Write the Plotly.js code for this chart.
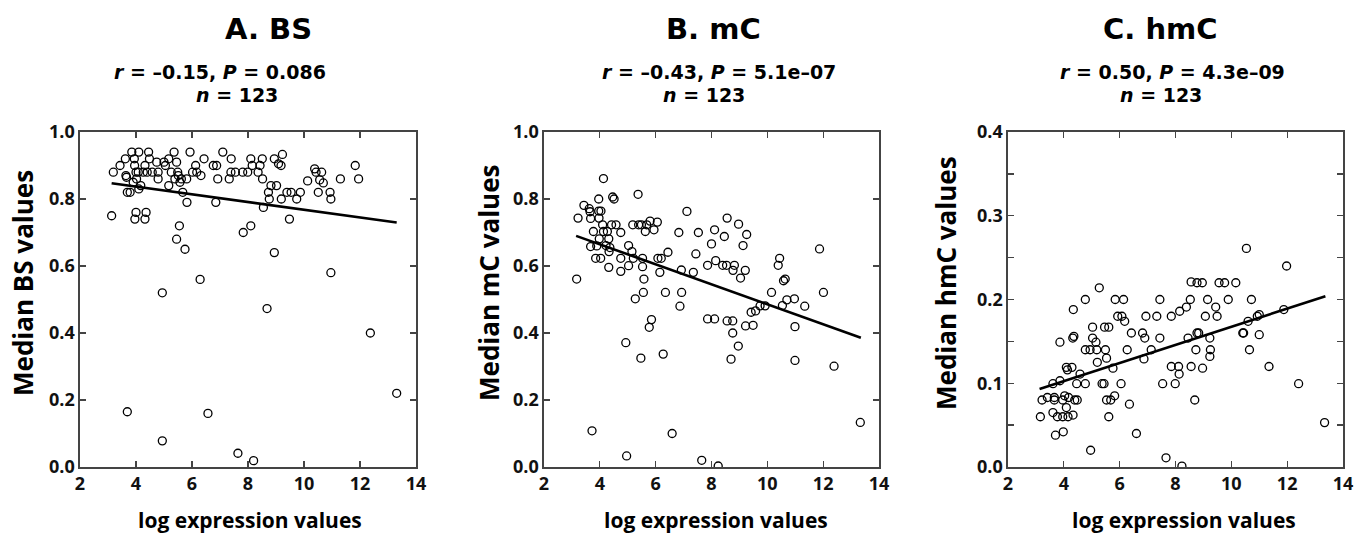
<!DOCTYPE html>
<html><head><meta charset="utf-8">
<script src="https://cdn.plot.ly/plotly-3.0.1.min.js"></script>
<style>html,body{margin:0;padding:0;background:#fff}#chart{width:1359px;height:535px}</style>
</head><body><div id="chart"></div>
<script>
const panelTitles = ["A. BS", "B. mC", "C. hmC"];
const statLines = ["<i>r</i> = –0.15, <i>P</i> = 0.086", "<i>r</i> = –0.43, <i>P</i> = 5.1e–07", "<i>r</i> = 0.50, <i>P</i> = 4.3e–09"];
const nLine = "<i>n</i> = 123";
const xTitle = "log expression values";
const yTitles = ["Median BS values", "Median mC values", "Median hmC values"];

const xTickVals = [2, 4, 6, 8, 10, 12, 14];
const xTickText = ["2", "4", "6", "8", "10", "12", "14"];
const yTickValsAB = [0, 0.2, 0.4, 0.6, 0.8, 1.0];
const yTickTextAB = ["0.0", "0.2", "0.4", "0.6", "0.8", "1.0"];
const yTickValsC = [0, 0.05, 0.1, 0.15, 0.2, 0.25, 0.3, 0.35, 0.4];
const yTickTextC = ["0.0", "", "0.1", "", "0.2", "", "0.3", "", "0.4"];

// Panel A: BS
const aX = [3.19,3.13,3.43,3.62,3.64,3.66,3.69,3.79,3.85,3.94,3.90,3.95,4.00,4.10,4.08,4.10,4.17,4.00,3.96,4.02,
4.26,4.32,4.36,4.32,4.45,4.48,4.40,4.58,4.74,4.79,4.79,5.00,5.05,5.17,5.17,5.26,5.36,5.45,5.39,5.49,
5.51,5.57,5.62,5.67,5.81,5.82,5.93,6.02,6.13,6.17,6.32,6.43,6.76,6.88,6.92,6.85,7.10,7.33,7.40,7.39,
7.55,7.81,7.99,8.10,8.15,8.36,7.83,8.10,5.55,5.45,5.75,4.94,6.29,3.69,4.94,6.57,7.64,8.20,
8.43,8.51,8.52,8.55,8.68,8.73,8.76,8.82,8.94,8.94,9.02,9.09,9.18,9.23,9.19,9.39,9.48,9.54,9.74,9.87,
10.13,10.38,10.43,10.63,10.56,10.69,10.51,10.93,10.96,10.96,11.30,11.83,11.95,12.37,13.31];
const aY = [0.88,0.75,0.90,0.92,0.87,0.865,0.82,0.82,0.94,0.92,0.85,0.90,0.88,0.94,0.88,0.83,0.84,0.76,0.74,0.86,
0.88,0.90,0.76,0.74,0.94,0.92,0.88,0.88,0.91,0.88,0.86,0.91,0.90,0.92,0.84,0.88,0.94,0.91,0.86,0.88,
0.87,0.85,0.86,0.82,0.86,0.79,0.94,0.88,0.90,0.88,0.87,0.92,0.90,0.90,0.86,0.79,0.94,0.86,0.92,0.88,
0.88,0.88,0.88,0.92,0.90,0.88,0.70,0.72,0.72,0.68,0.65,0.52,0.56,0.165,0.078,0.16,0.041,0.019,
0.90,0.92,0.86,0.775,0.473,0.82,0.80,0.84,0.92,0.64,0.84,0.905,0.90,0.933,0.80,0.82,0.74,0.82,0.80,0.82,
0.854,0.89,0.88,0.88,0.857,0.848,0.82,0.82,0.80,0.58,0.86,0.90,0.86,0.40,0.22];
const fitAX = [3.13, 13.31];
const fitAY = [0.847, 0.730];

// Panel B: mC
const bX = [3.17,3.22,3.43,3.62,3.65,3.67,3.67,3.77,3.72,3.85,3.89,3.96,3.96,3.97,3.98,4.03,4.04,4.10,4.13,4.13,
4.22,4.27,4.32,4.33,4.32,4.36,4.42,4.46,4.51,4.58,4.75,4.75,4.75,4.93,4.96,5.03,5.03,5.15,5.18,5.20,
5.27,5.37,5.39,5.49,5.47,5.53,5.53,5.58,5.56,5.63,5.68,5.80,5.85,5.77,5.94,6.06,6.08,6.15,6.20,6.27,
6.35,6.44,6.59,6.83,6.87,6.92,6.93,7.12,7.35,7.44,7.53,
7.65,7.86,7.86,8.00,8.11,8.11,8.15,8.24,8.40,8.46,8.54,8.56,8.56,8.76,8.76,8.77,8.82,8.70,8.96,8.97,
9.04,9.13,9.21,9.22,9.26,9.49,9.42,9.58,9.74,9.92,10.15,10.39,10.44,10.54,10.58,10.64,10.70,10.97,10.99,10.99,
11.34,11.87,12.01,12.39,13.33];
const bY = [0.561,0.743,0.781,0.771,0.762,0.742,0.658,0.703,0.108,0.623,0.66,0.80,0.764,0.743,0.681,0.623,0.764,0.723,0.861,0.703,
0.661,0.703,0.681,0.643,0.596,0.655,0.723,0.806,0.80,0.723,0.70,0.623,0.584,0.371,0.033,0.661,0.601,0.643,0.723,0.623,
0.502,0.814,0.723,0.723,0.325,0.623,0.598,0.561,0.521,0.703,0.723,0.734,0.44,0.417,0.708,0.731,0.623,0.581,0.623,0.337,
0.521,0.641,0.10,0.70,0.48,0.588,0.521,0.763,0.581,0.636,0.70,
0.02,0.442,0.602,0.666,0.708,0.442,0.616,0.003,0.602,0.688,0.602,0.743,0.436,0.436,0.40,0.587,0.602,0.322,0.361,0.725,
0.564,0.661,0.587,0.421,0.694,0.423,0.462,0.466,0.481,0.481,0.521,0.602,0.623,0.482,0.556,0.561,0.499,0.502,0.419,0.318,
0.48,0.651,0.521,0.301,0.133];
const fitBX = [3.15, 13.35];
const fitBY = [0.690, 0.386];

// Panel C: hmC
const cX = [3.16,3.22,3.41,3.61,3.66,3.66,3.61,3.70,3.77,3.86,3.86,3.96,3.96,3.98,4.03,4.09,4.09,4.13,4.17,4.15,
4.29,4.32,4.34,4.36,4.33,4.39,4.48,4.46,4.58,4.77,4.77,4.77,4.96,4.94,5.03,5.03,5.15,5.18,5.20,5.27,
5.37,5.46,5.44,5.49,5.53,5.61,5.53,5.68,5.61,5.76,5.82,5.84,5.93,6.05,6.08,6.14,6.18,6.27,6.35,6.42,
6.60,6.82,6.90,6.87,6.94,7.13,7.33,
7.44,7.44,7.54,7.66,7.85,7.85,7.99,8.11,8.13,8.15,8.23,8.39,8.45,8.53,8.56,8.56,8.69,8.73,8.77,8.77,
8.83,8.96,8.97,9.07,9.15,9.23,9.25,9.23,9.44,9.49,9.56,9.76,9.89,10.16,10.41,10.44,10.54,10.60,10.65,10.72,
10.93,11.00,11.00,11.35,11.88,11.98,12.41,13.34];
const cY = [0.060,0.080,0.083,0.065,0.083,0.080,0.0995,0.038,0.060,0.149,0.103,0.060,0.080,0.042,0.085,0.071,0.119,0.116,0.083,0.060,
0.119,0.154,0.188,0.156,0.062,0.080,0.080,0.0995,0.111,0.20,0.140,0.0995,0.020,0.140,0.167,0.154,0.149,0.140,0.125,0.214,
0.0995,0.167,0.0995,0.140,0.130,0.167,0.080,0.080,0.060,0.118,0.085,0.20,0.180,0.0995,0.180,0.20,0.174,0.140,0.075,0.160,
0.040,0.160,0.154,0.129,0.180,0.140,0.180,
0.20,0.154,0.0995,0.011,0.180,0.120,0.0995,0.120,0.111,0.186,0.001,0.191,0.154,0.20,0.221,0.120,0.080,0.140,0.220,0.160,
0.160,0.220,0.118,0.180,0.20,0.154,0.140,0.132,0.191,0.180,0.220,0.220,0.20,0.220,0.160,0.160,0.261,0.174,0.140,0.20,
0.180,0.182,0.158,0.120,0.188,0.240,0.0995,0.053];
const fitCX = [3.13, 13.37];
const fitCY = [0.093, 0.204];

const W = 1359, H = 535;
const px = X => X / W;
const py = Y => 1 - Y / H;

const AX_COL = '#444';
const tickFont = {family: 'Open Sans, DejaVu Sans, sans-serif', size: 18, weight: 700, color: '#111'};

function xAxis(l, r, anchor) {
  return {domain: [px(l), px(r)], anchor: anchor, range: [2, 14], tickvals: xTickVals, ticktext: xTickText,
    ticks: 'inside', ticklen: 6, tickwidth: 1.3, tickcolor: AX_COL, showline: true, linecolor: AX_COL, linewidth: 1.6,
    mirror: 'ticks', showgrid: false, zeroline: false, tickfont: tickFont, automargin: false, fixedrange: true};
}
function yAxis(range, vals, text, anchor) {
  return {domain: [py(467), py(132)], anchor: anchor, range: range, tickvals: vals, ticktext: text,
    ticks: 'inside', ticklen: 6, tickwidth: 1.3, tickcolor: AX_COL, showline: true, linecolor: AX_COL, linewidth: 1.6,
    mirror: 'ticks', showgrid: false, zeroline: false, tickfont: tickFont, automargin: false, fixedrange: true};
}

const marker = {symbol: 'circle-open', size: 8, color: '#000', line: {width: 1.3, color: '#000'}};
const fitLine = {color: '#000', width: 2.6};

const traces = [
  {x: aX, y: aY, xaxis: 'x', yaxis: 'y', mode: 'markers', type: 'scatter', marker: marker},
  {x: fitAX, y: fitAY, xaxis: 'x', yaxis: 'y', mode: 'lines', type: 'scatter', line: fitLine},
  {x: bX, y: bY, xaxis: 'x2', yaxis: 'y2', mode: 'markers', type: 'scatter', marker: marker},
  {x: fitBX, y: fitBY, xaxis: 'x2', yaxis: 'y2', mode: 'lines', type: 'scatter', line: fitLine},
  {x: cX, y: cY, xaxis: 'x3', yaxis: 'y3', mode: 'markers', type: 'scatter', marker: marker},
  {x: fitCX, y: fitCY, xaxis: 'x3', yaxis: 'y3', mode: 'lines', type: 'scatter', line: fitLine}
];

const titleFont = {family: 'DejaVu Sans, Liberation Sans, sans-serif', size: 29, weight: 700, color: '#000'};
const statFont = {family: 'DejaVu Sans, Liberation Sans, sans-serif', size: 19, weight: 700, color: '#000'};
const axTitleFont = {family: 'Open Sans, DejaVu Sans, sans-serif', size: 21, weight: 700, color: '#000'};
const yTitleFont = {family: 'Open Sans, DejaVu Sans, sans-serif', size: 26, weight: 700, color: '#000'};

function ann(text, X, Y, font, angle) {
  return {text: text, x: px(X), y: py(Y), xref: 'paper', yref: 'paper', xanchor: 'center', yanchor: 'middle',
    showarrow: false, font: font, textangle: angle || 0};
}

const titleX = [268, 713, 1160];
const statX = [220, 719, 1172];
const nX = [237, 704, 1161];
const xTitleX = [250, 716, 1184];
const yTitleX = [23, 489, 946];

const annotations = [];
for (let i = 0; i < 3; i++) {
  annotations.push(ann(panelTitles[i], titleX[i], 29, titleFont));
  annotations.push(ann(statLines[i], statX[i], 71.5, statFont));
  annotations.push(ann(nLine, nX[i], 94.5, statFont));
  annotations.push(ann(xTitle, xTitleX[i], 520, axTitleFont));
  annotations.push(ann(yTitles[i], yTitleX[i], 283, yTitleFont, -90));
}

const layout = {
  width: W, height: H, margin: {l: 0, r: 0, t: 0, b: 0}, showlegend: false,
  paper_bgcolor: '#fff', plot_bgcolor: '#fff',
  xaxis: xAxis(80, 416, 'y'), yaxis: yAxis([0, 1], yTickValsAB, yTickTextAB, 'x'),
  xaxis2: xAxis(544, 879, 'y2'), yaxis2: yAxis([0, 1], yTickValsAB, yTickTextAB, 'x2'),
  xaxis3: xAxis(1008, 1343, 'y3'), yaxis3: yAxis([0, 0.4], yTickValsC, yTickTextC, 'x3'),
  annotations: annotations
};

Plotly.newPlot('chart', traces, layout, {staticPlot: true, displayModeBar: false});
</script>
</body></html>
